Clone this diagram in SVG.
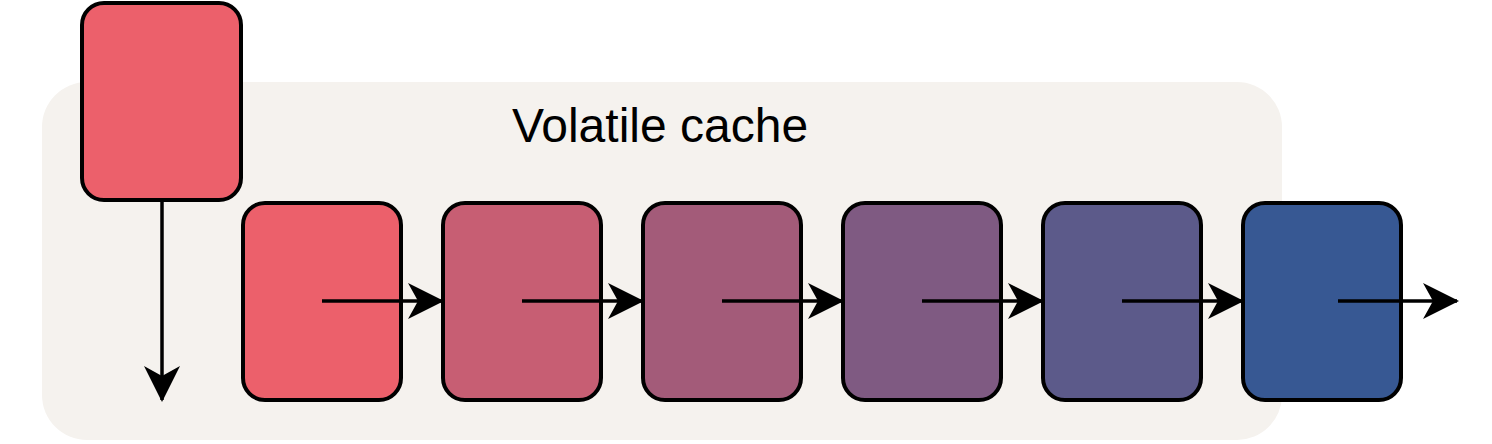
<svg xmlns="http://www.w3.org/2000/svg" width="1492" height="444" viewBox="0 0 1492 444">
<style>
.box{stroke:#000;stroke-width:4}
.conn{stroke:#000;stroke-width:3.5;fill:none}
.lbl{font-family:"Liberation Sans",Arial,sans-serif;font-size:48px;fill:#000}
</style>
<defs>
<marker id="ah" viewBox="0 0 36 36" refX="34" refY="18" markerWidth="36" markerHeight="36" markerUnits="userSpaceOnUse" orient="auto">
<path d="M0,0 L36,18 L0,36 L10,18 Z" fill="#000"/>
</marker>
</defs>
<rect width="1492" height="444" fill="#fff"/>
<g id="cache">
<rect x="42" y="82" width="1240" height="358" rx="45" fill="#f5f2ee"/>
<text class="lbl" x="660" y="142" text-anchor="middle">Volatile cache</text>
</g>
<g id="input"><rect class="box" x="82" y="3" width="159" height="197" rx="22" fill="#ec606b"/></g>
<g id="n1"><rect class="box" x="243" y="203" width="158" height="197" rx="22" fill="#ec606b"/></g>
<g id="n2"><rect class="box" x="443" y="203" width="158" height="197" rx="22" fill="#c75e73"/></g>
<g id="n3"><rect class="box" x="643" y="203" width="158" height="197" rx="22" fill="#a35b79"/></g>
<g id="n4"><rect class="box" x="843" y="203" width="158" height="197" rx="22" fill="#7f5a82"/></g>
<g id="n5"><rect class="box" x="1043" y="203" width="158" height="197" rx="22" fill="#5c5a8a"/></g>
<g id="n6"><rect class="box" x="1243" y="203" width="158" height="197" rx="22" fill="#375893"/></g>
<g id="connectors">
<line class="conn" x1="162" y1="201" x2="162" y2="400" marker-end="url(#ah)"/>
<line class="conn" x1="322" y1="301" x2="442" y2="301" marker-end="url(#ah)"/>
<line class="conn" x1="522" y1="301" x2="642" y2="301" marker-end="url(#ah)"/>
<line class="conn" x1="722" y1="301" x2="842" y2="301" marker-end="url(#ah)"/>
<line class="conn" x1="922" y1="301" x2="1042" y2="301" marker-end="url(#ah)"/>
<line class="conn" x1="1122" y1="301" x2="1242" y2="301" marker-end="url(#ah)"/>
<line class="conn" x1="1338" y1="301" x2="1457" y2="301" marker-end="url(#ah)"/>
</g>
</svg>
